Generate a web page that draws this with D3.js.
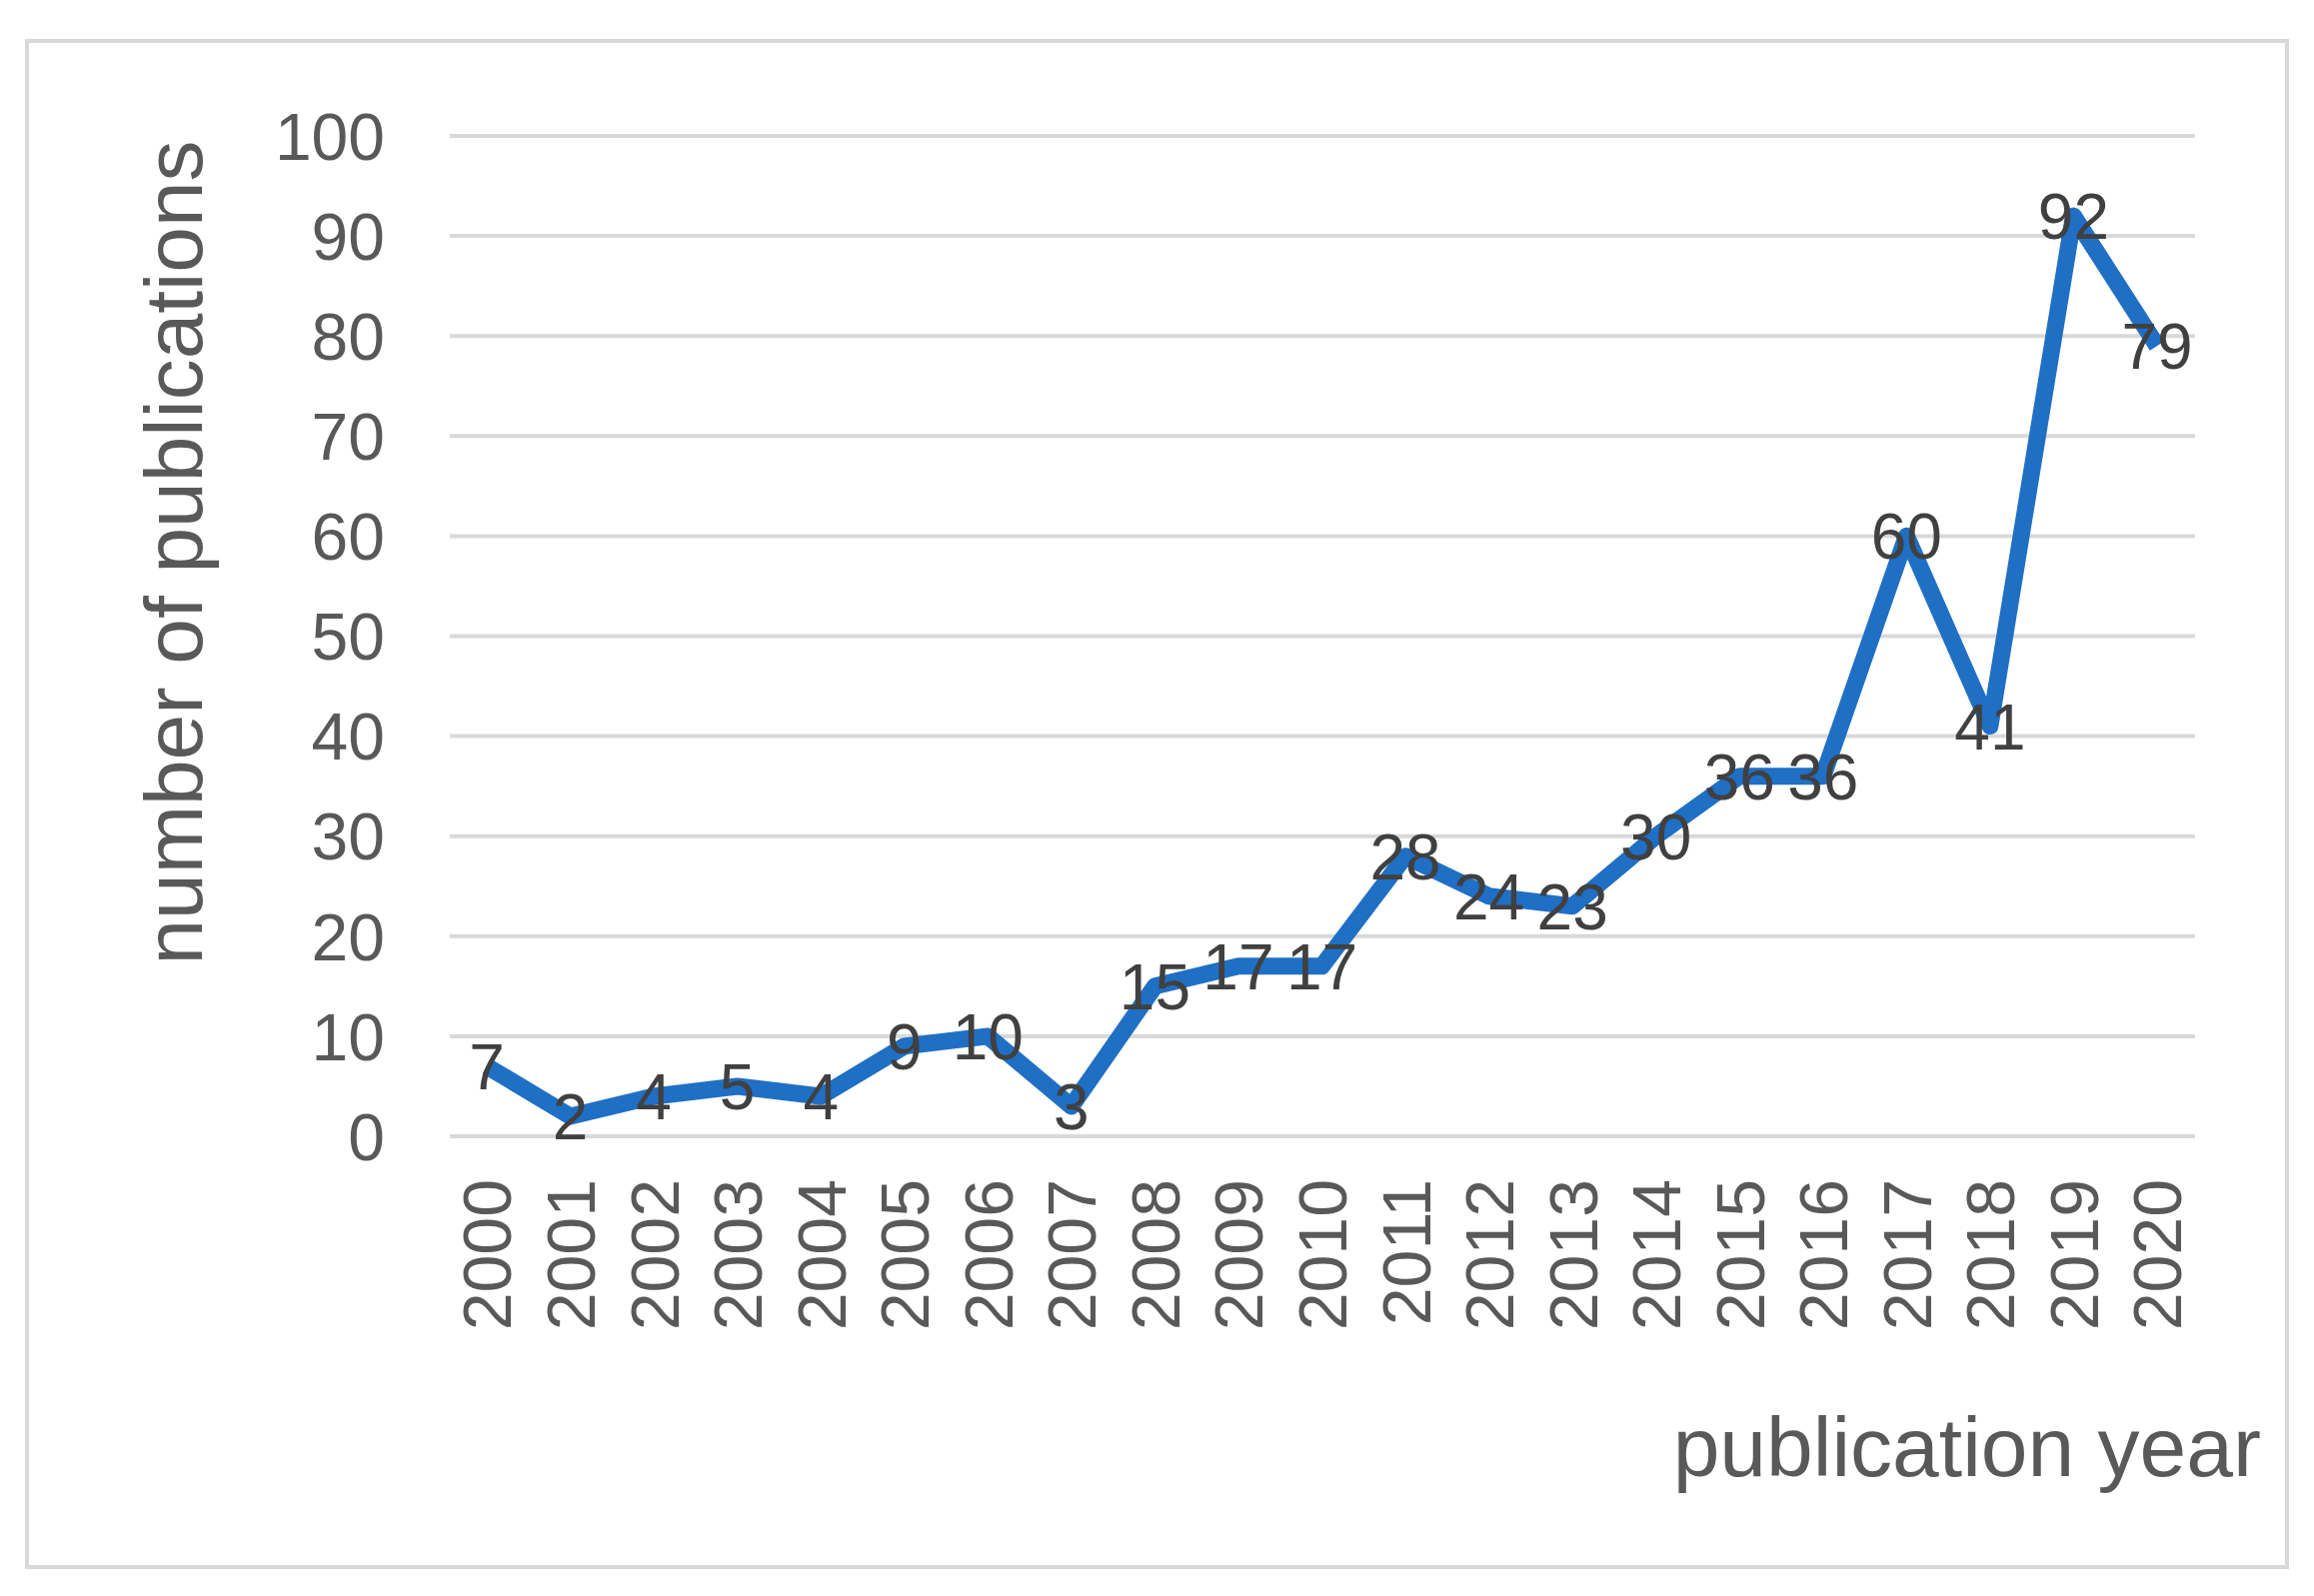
<!DOCTYPE html><html><head><meta charset="utf-8">
<script src="https://cdn.jsdelivr.net/npm/d3@7"></script>
<style>body{margin:0;background:#fff}</style></head><body>
<svg id="c" width="2315" height="1597"></svg>
<script>
const years=["2000","2001","2002","2003","2004","2005","2006","2007","2008","2009","2010","2011","2012","2013","2014","2015","2016","2017","2018","2019","2020"];
const counts=[7,2,4,5,4,9,10,3,15,17,17,28,24,23,30,36,36,60,41,92,79];
const yTicks=[0,10,20,30,40,50,60,70,80,90,100];
const svg=d3.select("#c");
const font="Liberation Sans, Arial, sans-serif";
svg.append("rect").attr("x",27).attr("y",41).attr("width",2261).attr("height",1527).attr("fill","#fff").attr("stroke","#d9d9d9").attr("stroke-width",4);
const x=d3.scalePoint().domain(years).range([487,2158]);
const y=d3.scaleLinear().domain([0,100]).range([1137,136]);
svg.append("g").selectAll("line").data(yTicks).join("line")
 .attr("x1",450).attr("x2",2196).attr("y1",d=>y(d)).attr("y2",d=>y(d)).attr("stroke","#d9d9d9").attr("stroke-width",4);
svg.append("g").selectAll("text").data(yTicks).join("text")
 .attr("x",385).attr("y",d=>y(d)).attr("dy","0.36em").attr("text-anchor","end")
 .attr("font-family",font).attr("font-size",66).attr("fill","#595959").text(d=>d);
svg.append("g").selectAll("text").data(years).join("text")
 .attr("transform",d=>`translate(${x(d)},1180) rotate(-90)`).attr("dy","0.36em").attr("text-anchor","end")
 .attr("font-family",font).attr("font-size",68).attr("fill","#595959").text(d=>d);
svg.append("path").datum(counts).attr("fill","none").attr("stroke","#1f6fc5").attr("stroke-width",17).attr("stroke-linejoin","round")
 .attr("d",d3.line().x((d,i)=>x(years[i])).y(d=>y(d)));
svg.append("g").selectAll("text").data(counts).join("text")
 .attr("x",(d,i)=>x(years[i])).attr("y",d=>y(d)).attr("dy","0.36em").attr("text-anchor","middle")
 .attr("font-family",font).attr("font-size",64).attr("fill","#404040").text(d=>d);
svg.append("text").attr("transform","translate(172,553) rotate(-90)").attr("dy","0.36em").attr("text-anchor","middle")
 .attr("font-family",font).attr("font-size",82).attr("fill","#595959").text("number of publications");
svg.append("text").attr("x",2262).attr("y",1447).attr("dy","0.36em").attr("text-anchor","end")
 .attr("font-family",font).attr("font-size",84).attr("fill","#595959").text("publication year");
</script></body></html>
